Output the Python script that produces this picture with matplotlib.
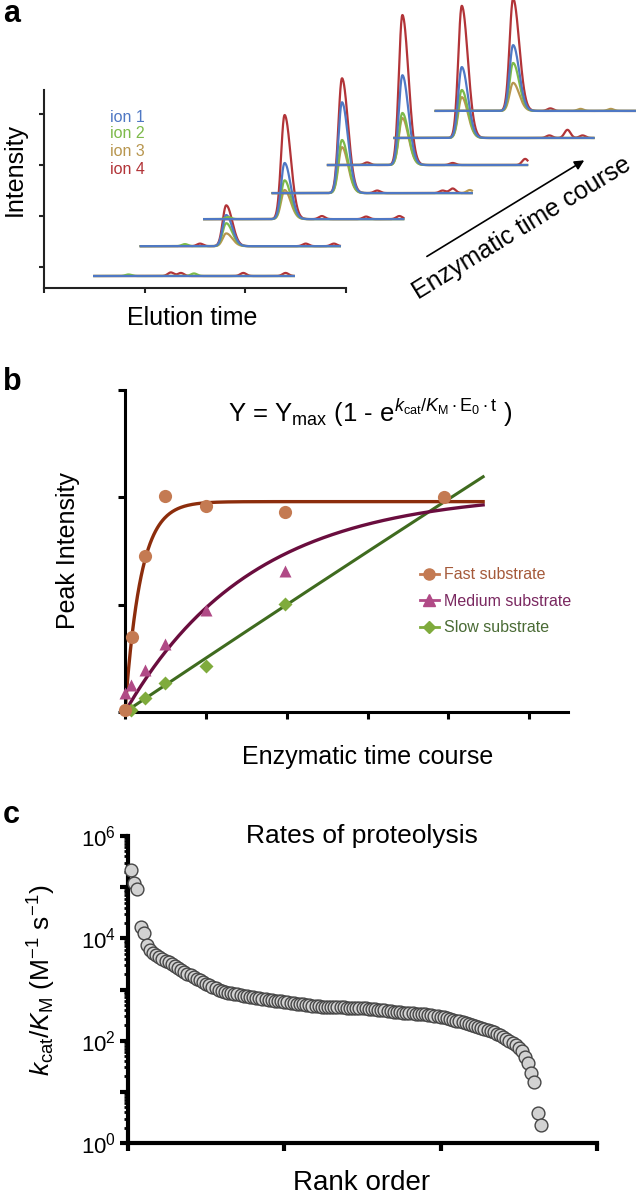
import numpy as np
import matplotlib
matplotlib.use('Agg')
import matplotlib.pyplot as plt
from matplotlib.lines import Line2D
from matplotlib.ticker import LogLocator, FuncFormatter, NullFormatter

plt.rcParams['font.family'] = ['Liberation Sans', 'DejaVu Sans']
plt.rcParams['mathtext.fontset'] = 'custom'
plt.rcParams['mathtext.rm'] = 'Liberation Sans'
plt.rcParams['mathtext.it'] = 'Liberation Sans:italic'
plt.rcParams['mathtext.bf'] = 'Liberation Sans:bold'

# ---------------- data: panel a (stacked chromatograms) ----------------
trace_start = [0.49, 0.95, 1.58, 2.26, 2.81, 3.47, 3.88]      # elution start of each time point
trace_base = [-0.175, 0.41, 0.94, 1.45, 2.00, 2.53, 3.06]     # stacked baseline of each time point
trace_len = 2.0
peak_pos = [0.86, 0.86, 0.81, 0.70, 0.75, 0.68, 0.78]         # peak elution (relative to start)
ion_names = ['ion 1', 'ion 2', 'ion 3', 'ion 4']
ion_colors = ['#4f78c4', '#7dba4a', '#b8964e', '#b23438']
ion1_h = [0, 0.61, 1.10, 1.78, 1.76, 1.39, 1.29]
ion2_h = [0, 0.45, 0.76, 1.04, 1.02, 0.94, 0.94]
ion3_h = [0, 0.25, 0.57, 0.90, 0.92, 0.80, 0.55]
ion4_h = [0, 0.80, 2.04, 2.25, 2.94, 2.59, 2.20]
# small noise bumps: (time point, ion index, relative elution, height)
bumps = [(0, 3, 0.77, 0.07), (0, 3, 0.87, 0.06), (0, 1, 1.00, 0.05), (0, 3, 1.49, 0.06),
         (0, 3, 1.91, 0.06), (0, 1, 0.35, 0.03),
         (1, 3, 0.60, 0.05), (1, 3, 1.65, 0.05), (1, 3, 1.93, 0.05), (1, 1, 0.45, 0.04),
         (2, 3, 1.18, 0.06), (2, 3, 1.62, 0.05), (2, 3, 1.95, 0.06), (2, 1, 0.25, 0.04),
         (3, 3, 1.05, 0.05), (3, 3, 1.80, 0.09), (3, 3, 1.70, 0.05), (3, 2, 1.97, 0.06),
         (4, 3, 0.40, 0.05), (4, 3, 1.25, 0.04), (4, 3, 1.97, 0.12),
         (5, 3, 1.73, 0.16), (5, 3, 1.55, 0.05), (5, 3, 1.88, 0.05),
         (6, 3, 1.15, 0.05), (6, 2, 1.45, 0.04), (6, 2, 1.75, 0.04)]

# ---------------- data: panel b (kinetics) ----------------
fast_t = [0, 0.09, 0.25, 0.50, 1.0, 1.98, 3.95]
fast_y = [0.02, 0.70, 1.45, 2.01, 1.92, 1.86, 2.00]
medium_t = [0, 0.08, 0.25, 0.50, 1.0, 1.98]
medium_y = [0.18, 0.25, 0.39, 0.63, 0.95, 1.31]
slow_t = [0.08, 0.25, 0.49, 1.0, 1.98]
slow_y = [0.02, 0.13, 0.27, 0.43, 1.01]
fast_ymax, fast_k = 1.96, 5.2
medium_ymax, medium_k = 2.05, 0.64
slow_ymax, slow_k = 60.0, 0.0084
fit_t_end = 4.43

# ---------------- data: panel c (rank order of kcat/KM) ----------------
log_kcat_km = [
    5.33, 5.08, 4.96, 4.22, 4.10, 3.87, 3.78, 3.72, 3.68, 3.64,
    3.60, 3.56, 3.53, 3.50, 3.46, 3.42, 3.39, 3.35, 3.31, 3.28,
    3.25, 3.21, 3.18, 3.14, 3.11, 3.08, 3.05, 3.02, 2.99, 2.97,
    2.96, 2.94, 2.93, 2.92, 2.905, 2.89, 2.88, 2.87, 2.86, 2.85,
    2.84, 2.83, 2.82, 2.81, 2.80, 2.79, 2.78, 2.775, 2.77, 2.76,
    2.75, 2.74, 2.73, 2.72, 2.715, 2.71, 2.70, 2.69, 2.68, 2.675,
    2.67, 2.665, 2.66, 2.66, 2.655, 2.655, 2.65, 2.65, 2.65, 2.645,
    2.645, 2.645, 2.64, 2.64, 2.64, 2.63, 2.62, 2.615, 2.61, 2.60,
    2.595, 2.59, 2.58, 2.575, 2.57, 2.56, 2.555, 2.55, 2.545, 2.54,
    2.535, 2.53, 2.525, 2.52, 2.515, 2.51, 2.50, 2.49, 2.48, 2.47,
    2.46, 2.44, 2.43, 2.41, 2.39, 2.38, 2.36, 2.34, 2.32, 2.30,
    2.28, 2.27, 2.25, 2.23, 2.20, 2.18, 2.16, 2.13, 2.11, 2.07,
    2.03, 1.99, 1.95, 1.91, 1.86, 1.79, 1.68, 1.56, 1.37, 1.19, 0.59, 0.35]

# ---------------- figure ----------------
W, H = 641, 1198
fig = plt.figure(figsize=(W / 100, H / 100), dpi=100)


def fx(x):
    return x / W


def fy(y):
    return 1 - y / H


def axes_px(l, t, r, b):
    return fig.add_axes([l / W, 1 - b / H, (r - l) / W, (b - t) / H])


def style_axes(ax, lw, tl, color='black'):
    for s in ('top', 'right'):
        ax.spines[s].set_visible(False)
    for s in ('left', 'bottom'):
        ax.spines[s].set_linewidth(lw)
        ax.spines[s].set_color(color)
    ax.tick_params(which='major', direction='out', length=tl, width=lw, color=color,
                   labelleft=False, labelbottom=False)


# ---- panel a ----
axA = axes_px(44, 90, 346, 288)
axA.set_xlim(0, 3)
axA.set_ylim(-0.41, 3.47)
style_axes(axA, 1.5, 3.5, '#222222')
axA.set_xticks([0, 1, 2, 3])
axA.set_yticks([0, 1, 2, 3])

heights = [ion1_h, ion2_h, ion3_h, ion4_h]
sig_l, sig_r, sig_b = 0.035, 0.06, 0.03
for i in range(len(trace_start)):
    rel = np.linspace(0, trace_len, 600)
    for ion in [3, 2, 1, 0]:
        d = rel - peak_pos[i]
        shape = np.where(d < 0, np.exp(-0.5 * (d / sig_l) ** 2), np.exp(-0.5 * (d / sig_r) ** 2))
        y = trace_base[i] + heights[ion][i] * shape
        for (ti, bi, bp, bh) in bumps:
            if ti == i and bi == ion:
                y = y + bh * np.exp(-0.5 * ((rel - bp) / sig_b) ** 2)
        axA.plot(trace_start[i] + rel, y, color=ion_colors[ion], lw=1.6, clip_on=False,
                 solid_capstyle='butt')

ion_label_y = [2.94, 2.61, 2.26, 1.92]
for name, c, yy in zip(ion_names, ion_colors, ion_label_y):
    axA.text(0.655, yy, name, color=c, fontsize=11.5, ha='left', va='center')

axA.annotate('', xy=(5.39, 2.12), xytext=(3.78, 0.18),
             arrowprops=dict(arrowstyle='-|>', color='black', lw=1.2, mutation_scale=14),
             annotation_clip=False)
axA.text(4.75, 0.77, 'Enzymatic time course', rotation=31.5, rotation_mode='anchor',
         ha='center', va='center', fontsize=18, clip_on=False)

fig.text(fx(3), fy(22), 'a', fontsize=22, fontweight='bold', ha='left', va='baseline')
fig.text(fx(15), fy(170), 'Intensity', rotation=90, fontsize=18, ha='center', va='center')
fig.text(fx(192), fy(325), 'Elution time', fontsize=18, ha='center', va='baseline')

# ---- panel b ----
axB = axes_px(125, 390, 568, 712)
axB.set_xlim(0, 5.48)
axB.set_ylim(0, 3)
style_axes(axB, 2.2, 5)
axB.set_xticks([0, 1, 2, 3, 4, 5])
axB.set_yticks([0, 1, 2, 3])

tt = np.linspace(0, fit_t_end, 400)
fast_line, medium_line, slow_line = '#8c2d0c', '#6a0d3e', '#3f6b1f'
fast_mk, medium_mk, slow_mk = '#c47a52', '#b04a86', '#7fab3c'
axB.plot(tt, slow_ymax * (1 - np.exp(-slow_k * tt)), color=slow_line, lw=2.2, zorder=2)
axB.plot(tt, medium_ymax * (1 - np.exp(-medium_k * tt)), color=medium_line, lw=2.4, zorder=2)
axB.plot(tt, fast_ymax * (1 - np.exp(-fast_k * tt)), color=fast_line, lw=2.4, zorder=2)
axB.plot(slow_t, slow_y, 'D', color=slow_mk, ms=7, mec='none', clip_on=False, zorder=3)
axB.plot(medium_t, medium_y, '^', color=medium_mk, ms=9, mec='none', clip_on=False, zorder=3)
axB.plot(fast_t, fast_y, 'o', color=fast_mk, ms=9.5, mec='none', clip_on=False, zorder=4)

handles = [Line2D([], [], color=fast_mk, marker='o', ms=8, lw=2),
           Line2D([], [], color=medium_mk, marker='^', ms=8, lw=2),
           Line2D([], [], color=slow_mk, marker='D', ms=6, lw=2)]
leg = axB.legend(handles, ['Fast substrate', 'Medium substrate', 'Slow substrate'],
                 loc='upper left', bbox_to_anchor=(0.665, 0.45), frameon=False,
                 fontsize=11.5, handlelength=1.2, handletextpad=0.35, labelspacing=0.72,
                 borderpad=0, borderaxespad=0,
                 labelcolor=['#a55a3a', '#7a2860', '#4a6b35'])

eq = (r'Y = Y$_{\mathrm{max}}$ (1 - e$^{k_{\mathrm{cat}}/K_{\mathrm{M}}\bullet'
      r'\mathrm{E}_{0}\bullet\mathrm{t}}$ )')
fig.text(fx(370), fy(422), eq, fontsize=18.5, ha='center', va='baseline')
fig.text(fx(3), fy(390), 'b', fontsize=22, fontweight='bold', ha='left', va='baseline')
fig.text(fx(68), fy(551), 'Peak Intensity', rotation=90, fontsize=18, ha='center', va='center')
fig.text(fx(368), fy(764), 'Enzymatic time course', fontsize=18, ha='center', va='baseline')

# ---- panel c ----
axC = axes_px(128, 836, 597, 1143)
axC.set_yscale('log')
axC.set_ylim(1, 1e6)
axC.set_xlim(0, 150)
style_axes(axC, 3.0, 5.5)
axC.set_xticks([0, 50, 100, 150])
axC.yaxis.set_major_locator(LogLocator(base=10, numticks=10))
axC.yaxis.set_minor_locator(LogLocator(base=10, subs=np.arange(2, 10), numticks=20))
axC.yaxis.set_minor_formatter(NullFormatter())
axC.yaxis.set_major_formatter(FuncFormatter(
    lambda v, p: r'$\mathregular{10^{%d}}$' % round(np.log10(v)) if round(np.log10(v)) % 2 == 0 else ''))
axC.tick_params(axis='y', which='major', labelleft=True, labelsize=16, pad=3)
axC.tick_params(axis='y', which='minor', direction='out', length=3, width=2.0)

rank = np.arange(1, len(log_kcat_km) + 1)
kcat_km = 10 ** np.array(log_kcat_km)
axC.scatter(rank, kcat_km, s=85, facecolor='#d2d2d2', edgecolor='#454545', linewidth=1.0,
            clip_on=False, zorder=3)

fig.text(fx(3), fy(823), 'c', fontsize=22, fontweight='bold', ha='left', va='baseline')
fig.text(fx(362), fy(843), 'Rates of proteolysis', fontsize=19, ha='center', va='baseline')
fig.text(fx(42), fy(980), r'$k_{\mathrm{cat}}/K_{\mathrm{M}}$ (M$^{-1}$ s$^{-1}$)',
         rotation=90, fontsize=19, ha='center', va='center')
fig.text(fx(362), fy(1190), 'Rank order', fontsize=20, ha='center', va='baseline')

fig.savefig('out.png', dpi=100)
